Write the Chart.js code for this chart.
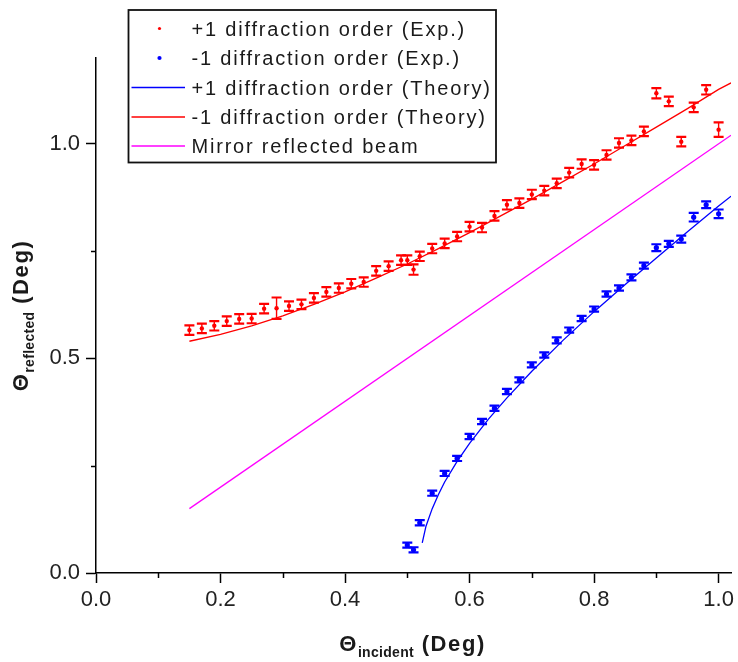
<!DOCTYPE html>
<html>
<head>
<meta charset="utf-8">
<script src="https://cdn.jsdelivr.net/npm/chart.js@4.4.1/dist/chart.umd.min.js"></script>
<style>
    html, body { margin: 0; padding: 0; background: #fff; }
    canvas { display: block; }
</style>
</head>
<body>
<canvas id="angles" width="738" height="662"></canvas>
<script>
// +1 order, measured
const plusX = [0.15, 0.17, 0.19, 0.21, 0.23, 0.25, 0.27, 0.29, 0.31, 0.33, 0.35, 0.37, 0.39, 0.41, 0.43, 0.45, 0.47, 0.49, 0.50, 0.51,
    0.52, 0.54, 0.56, 0.58, 0.60, 0.62, 0.64, 0.66, 0.68, 0.70, 0.72, 0.74, 0.76, 0.78, 0.80, 0.82, 0.84, 0.86, 0.88, 0.90,
    0.92, 0.94, 0.96, 0.98, 1.00];
const plusY = [0.566, 0.570, 0.576, 0.587, 0.592, 0.593, 0.616, 0.617, 0.622, 0.626, 0.641, 0.655, 0.664, 0.674, 0.678, 0.704, 0.715, 0.729, 0.729, 0.707,
    0.738, 0.756, 0.768, 0.784, 0.807, 0.805, 0.832, 0.858, 0.862, 0.882, 0.891, 0.908, 0.933, 0.953, 0.951, 0.974, 1.002, 1.008, 1.029, 1.118,
    1.099, 1.005, 1.085, 1.126, 1.033];
const plusErr = [0.011, 0.011, 0.011, 0.011, 0.011, 0.011, 0.011, 0.025, 0.011, 0.011, 0.011, 0.011, 0.011, 0.011, 0.011, 0.011, 0.011, 0.011, 0.011, 0.012,
    0.011, 0.011, 0.011, 0.011, 0.011, 0.011, 0.011, 0.011, 0.011, 0.011, 0.011, 0.011, 0.011, 0.011, 0.011, 0.011, 0.011, 0.011, 0.011, 0.012,
    0.011, 0.011, 0.011, 0.011, 0.017];

// -1 order, measured
const minusX = [0.50, 0.51, 0.52, 0.54, 0.56, 0.58, 0.60, 0.62, 0.64, 0.66, 0.68, 0.70, 0.72, 0.74, 0.76, 0.78, 0.80, 0.82, 0.84, 0.86,
    0.88, 0.90, 0.92, 0.94, 0.96, 0.98, 1.00];
const minusY = [0.065, 0.054, 0.117, 0.186, 0.232, 0.267, 0.318, 0.353, 0.384, 0.423, 0.450, 0.485, 0.508, 0.542, 0.566, 0.593, 0.615, 0.650, 0.664, 0.689,
    0.716, 0.758, 0.767, 0.778, 0.829, 0.858, 0.837];
const minusErr = [0.006, 0.006, 0.006, 0.006, 0.006, 0.006, 0.006, 0.006, 0.006, 0.006, 0.006, 0.006, 0.006, 0.007, 0.006, 0.006, 0.006, 0.006, 0.006, 0.007,
    0.007, 0.008, 0.007, 0.008, 0.010, 0.008, 0.010];

// calculated curves
const blueTheoryX = [0.524, 0.53, 0.54, 0.55, 0.56, 0.58, 0.60, 0.63, 0.66, 0.70, 0.75, 0.80, 0.85, 0.90, 0.95, 1.00, 1.02];
const blueTheoryY = [0.070, 0.109, 0.150, 0.183, 0.212, 0.260, 0.302, 0.358, 0.408, 0.470, 0.542, 0.609, 0.672, 0.734, 0.795, 0.855, 0.878];
const redTheoryX = [0.15, 0.20, 0.25, 0.30, 0.35, 0.40, 0.45, 0.50, 0.55, 0.60, 0.65, 0.70, 0.75, 0.80, 0.85, 0.90, 0.95, 1.00, 1.02];
const redTheoryY = [0.540, 0.556, 0.576, 0.599, 0.626, 0.655, 0.687, 0.720, 0.756, 0.793, 0.832, 0.871, 0.912, 0.953, 0.996, 1.039, 1.082, 1.127, 1.142];
const mirrorX = [0.15, 1.02];
const mirrorY = [0.15, 1.02];

const seriesLabels = [
    '+1 diffraction order (Exp.)',
    '-1 diffraction order (Exp.)',
    '+1 diffraction order (Theory)',
    '-1 diffraction order (Theory)',
    'Mirror reflected beam'
];

const RED = '#ff0000';
const BLUE = '#0000ff';
const MAGENTA = '#ff00ff';
const FONT = "'Liberation Sans', Arial, sans-serif";

function toPoints(xs, ys) {
    return xs.map(function(x, i) { return { x: x, y: ys[i] }; });
}

function isMajorX(v) { return Math.round(v * 10) % 2 === 0; }
function isMajorY(v) { return Math.round(v * 4) % 2 === 0; }

// vertical error bars with caps, placed through the chart scales
const errorBars = {
    id: 'errorBars',
    afterDatasetsDraw(chart) {
        const ctx = chart.ctx;
        const xs = chart.scales.x, ys = chart.scales.y;
        const area = chart.chartArea;
        ctx.save();
        ctx.beginPath();
        ctx.rect(area.left, area.top, area.right - area.left, area.bottom - area.top);
        ctx.clip();
        chart.data.datasets.forEach(function(ds) {
            if (!ds.errors) return;
            ctx.strokeStyle = ds.borderColor;
            ds.data.forEach(function(p, i) {
                const px = xs.getPixelForValue(p.x);
                const top = ys.getPixelForValue(p.y + ds.errors[i]);
                const bot = ys.getPixelForValue(p.y - ds.errors[i]);
                ctx.lineWidth = 1.4;
                ctx.beginPath();
                ctx.moveTo(px, top);
                ctx.lineTo(px, bot);
                ctx.stroke();
                ctx.lineWidth = 2.2;
                ctx.beginPath();
                ctx.moveTo(px - 5, top);
                ctx.lineTo(px + 5, top);
                ctx.moveTo(px - 5, bot);
                ctx.lineTo(px + 5, bot);
                ctx.stroke();
            });
        });
        ctx.restore();
    }
};

// short unlabeled ticks between the labeled ones
const minorTicks = {
    id: 'minorTicks',
    afterDraw(chart) {
        const ctx = chart.ctx;
        const xs = chart.scales.x, ys = chart.scales.y;
        ctx.save();
        ctx.strokeStyle = '#000';
        ctx.lineWidth = 1.5;
        ctx.beginPath();
        xs.ticks.forEach(function(t) {
            if (isMajorX(t.value)) return;
            const px = Math.round(xs.getPixelForValue(t.value)) + 0.5;
            ctx.moveTo(px, xs.top);
            ctx.lineTo(px, xs.top + 5);
        });
        ys.ticks.forEach(function(t) {
            if (isMajorY(t.value)) return;
            const py = Math.round(ys.getPixelForValue(t.value)) + 0.5;
            ctx.moveTo(ys.right, py);
            ctx.lineTo(ys.right - 5, py);
        });
        ctx.stroke();
        ctx.restore();
    }
};

// axis titles with a subscript after the theta
function drawSubTitle(ctx, main, sub, rest) {
    ctx.font = 'bold 22px ' + FONT;
    ctx.letterSpacing = '1.6px';
    const w1 = ctx.measureText(main).width;
    const w3 = ctx.measureText(rest).width;
    ctx.font = 'bold 14px ' + FONT;
    ctx.letterSpacing = '0.3px';
    const w2 = ctx.measureText(sub).width;
    let x = -(w1 + w2 + w3) / 2;
    ctx.font = 'bold 22px ' + FONT;
    ctx.letterSpacing = '1.6px';
    ctx.fillText(main, x, 0);
    x += w1;
    ctx.font = 'bold 14px ' + FONT;
    ctx.letterSpacing = '0.3px';
    ctx.fillText(sub, x, 6);
    x += w2;
    ctx.font = 'bold 22px ' + FONT;
    ctx.letterSpacing = '1.6px';
    ctx.fillText(rest, x, 0);
}

const axisTitles = {
    id: 'axisTitles',
    afterDraw(chart) {
        const ctx = chart.ctx;
        const area = chart.chartArea;
        ctx.save();
        ctx.fillStyle = '#1a1a1a';
        ctx.textBaseline = 'alphabetic';
        ctx.textAlign = 'left';
        ctx.translate((area.left + area.right) / 2 - 1, 651);
        drawSubTitle(ctx, '\u0398', 'incident', ' (Deg)');
        ctx.restore();

        ctx.save();
        ctx.fillStyle = '#1a1a1a';
        ctx.textBaseline = 'alphabetic';
        ctx.textAlign = 'left';
        ctx.translate(28, (area.top + area.bottom) / 2);
        ctx.rotate(-Math.PI / 2);
        drawSubTitle(ctx, '\u0398', 'reflected', ' (Deg)');
        ctx.restore();
    }
};

// framed legend in the upper left corner
const boxLegend = {
    id: 'boxLegend',
    afterDraw(chart) {
        const ctx = chart.ctx;
        const box = { left: 128.5, top: 10, right: 496, bottom: 162.5 };
        const rowY = [28.5, 58, 87.5, 117, 146];
        ctx.save();
        ctx.fillStyle = '#fff';
        ctx.fillRect(box.left, box.top, box.right - box.left, box.bottom - box.top);
        ctx.strokeStyle = '#111';
        ctx.lineWidth = 1.8;
        ctx.strokeRect(box.left, box.top, box.right - box.left, box.bottom - box.top);
        chart.data.datasets.forEach(function(ds, i) {
            const y = rowY[i];
            if (ds.showLine === false) {
                ctx.fillStyle = ds.backgroundColor;
                ctx.beginPath();
                ctx.arc(159.5, y, i === 0 ? 1.6 : 2.1, 0, Math.PI * 2);
                ctx.fill();
            } else {
                ctx.strokeStyle = ds.borderColor;
                ctx.lineWidth = 1.5;
                ctx.beginPath();
                ctx.moveTo(131.5, y);
                ctx.lineTo(185, y);
                ctx.stroke();
            }
            ctx.fillStyle = '#1a1a1a';
            ctx.font = '20px ' + FONT;
            ctx.letterSpacing = '1.8px';
            ctx.textBaseline = 'alphabetic';
            ctx.fillText(ds.label, 191.5, y + 7.2);
        });
        ctx.restore();
    }
};

new Chart(document.getElementById('angles'), {
    type: 'scatter',
    data: {
        datasets: [
            {
                label: seriesLabels[0],
                data: toPoints(plusX, plusY),
                errors: plusErr,
                showLine: false,
                pointRadius: 2.2,
                pointBorderWidth: 0,
                backgroundColor: RED,
                borderColor: RED
            },
            {
                label: seriesLabels[1],
                data: toPoints(minusX, minusY),
                errors: minusErr,
                showLine: false,
                pointRadius: 2.6,
                pointBorderWidth: 0,
                backgroundColor: BLUE,
                borderColor: BLUE
            },
            {
                label: seriesLabels[2],
                data: toPoints(blueTheoryX, blueTheoryY),
                showLine: true,
                pointRadius: 0,
                borderWidth: 1.3,
                tension: 0,
                borderColor: BLUE,
                backgroundColor: BLUE
            },
            {
                label: seriesLabels[3],
                data: toPoints(redTheoryX, redTheoryY),
                showLine: true,
                pointRadius: 0,
                borderWidth: 1.3,
                tension: 0,
                borderColor: RED,
                backgroundColor: RED
            },
            {
                label: seriesLabels[4],
                data: toPoints(mirrorX, mirrorY),
                showLine: true,
                pointRadius: 0,
                borderWidth: 1.3,
                tension: 0,
                borderColor: MAGENTA,
                backgroundColor: MAGENTA
            }
        ]
    },
    options: {
        responsive: false,
        animation: false,
        events: [],
        layout: { padding: { top: 58, right: 5, left: 0, bottom: 0 } },
        plugins: {
            legend: { display: false },
            tooltip: { enabled: false }
        },
        scales: {
            x: {
                type: 'linear',
                min: 0,
                max: 1.02,
                afterFit: function(scale) { scale.height = 89; },
                border: { display: true, color: '#000', width: 1.5 },
                grid: {
                    drawOnChartArea: false,
                    drawTicks: true,
                    tickLength: 10,
                    tickWidth: 1.5,
                    tickColor: function(c) {
                        return c.tick && isMajorX(c.tick.value) ? '#000' : 'rgba(0,0,0,0)';
                    }
                },
                ticks: {
                    stepSize: 0.1,
                    includeBounds: false,
                    autoSkip: false,
                    maxRotation: 0,
                    padding: 4,
                    color: '#222',
                    font: { family: FONT, size: 22 },
                    callback: function(v) { return isMajorX(v) ? v.toFixed(1) : ''; }
                }
            },
            y: {
                type: 'linear',
                min: 0,
                max: 1.2,
                afterFit: function(scale) { scale.width = 96; },
                border: { display: true, color: '#000', width: 1.5 },
                grid: {
                    drawOnChartArea: false,
                    drawTicks: true,
                    tickLength: 10,
                    tickWidth: 1.5,
                    tickColor: function(c) {
                        return c.tick && isMajorY(c.tick.value) ? '#000' : 'rgba(0,0,0,0)';
                    }
                },
                ticks: {
                    stepSize: 0.25,
                    includeBounds: false,
                    autoSkip: false,
                    padding: 6,
                    color: '#222',
                    font: { family: FONT, size: 22 },
                    callback: function(v) { return isMajorY(v) ? v.toFixed(1) : ''; }
                }
            }
        }
    },
    plugins: [errorBars, minorTicks, axisTitles, boxLegend]
});
</script>
</body>
</html>
